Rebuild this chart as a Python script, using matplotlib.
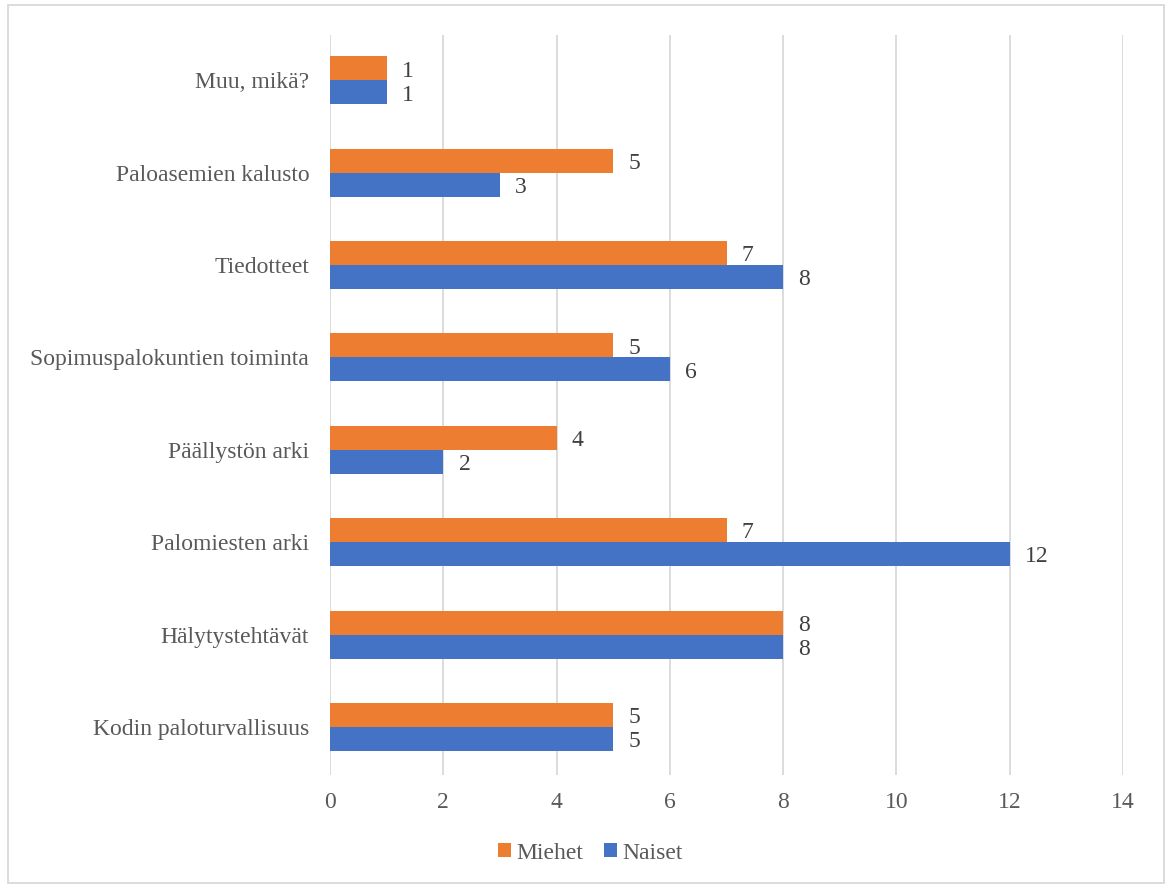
import matplotlib.pyplot as plt
import numpy as np
from matplotlib.patches import Rectangle

# data (bottom to top, as drawn)
categories = ["Kodin paloturvallisuus", "Hälytystehtävät", "Palomiesten arki",
              "Päällystön arki", "Sopimuspalokuntien toiminta", "Tiedotteet",
              "Paloasemien kalusto", "Muu, mikä?"]
miehet = [5, 8, 7, 4, 5, 7, 5, 1]
naiset = [5, 8, 12, 2, 6, 8, 3, 1]
xticks = [0, 2, 4, 6, 8, 10, 12, 14]

plt.rcParams['font.family'] = ['Liberation Serif', 'DejaVu Serif']

fig = plt.figure(figsize=(11.67, 8.86), dpi=100)
ax = fig.add_axes([0.2828, 0.1253, 0.6795, 0.8352])

y = np.arange(len(categories))
h = 0.26
b1 = ax.barh(y + h / 2, miehet, height=h, color="#ED7D31", label="Miehet", zorder=3)
b2 = ax.barh(y - h / 2, naiset, height=h, color="#4472C4", label="Naiset", zorder=3)

# value labels at the end of each bar
for bars in (b1, b2):
    for r in bars:
        w = r.get_width()
        ax.annotate(str(int(w)), (w, r.get_y() + r.get_height() / 2),
                    xytext=(11, -2), textcoords="offset points",
                    va="center", ha="left", fontsize=17, color="#404040")

ax.set_xlim(0, 14)
ax.set_ylim(-0.52, 7.49)
ax.set_xticks(xticks)
ax.set_yticks(y)
ax.set_yticklabels(categories)
ax.tick_params(axis="both", length=0, labelsize=17, labelcolor="#595959")
ax.tick_params(axis="y", pad=15)
ax.tick_params(axis="x", pad=12)
ax.grid(axis="x", color="#D9D9D9", linewidth=1.3, zorder=0)
for s in ax.spines.values():
    s.set_visible(False)

ax.legend(loc="center", bbox_to_anchor=(0.506, 0.037), bbox_transform=fig.transFigure,
          ncol=2, frameon=False, fontsize=17, handlelength=0.55, handleheight=0.55,
          handletextpad=0.25, columnspacing=0.85, labelcolor="#595959")

# light border round the whole chart
fig.patches.append(Rectangle((8 / 1167, 3 / 886), 1156 / 1167, 878 / 886,
                             transform=fig.transFigure, fill=False,
                             edgecolor="#D9D9D9", linewidth=1.3))

fig.savefig("out.png", dpi=100)
